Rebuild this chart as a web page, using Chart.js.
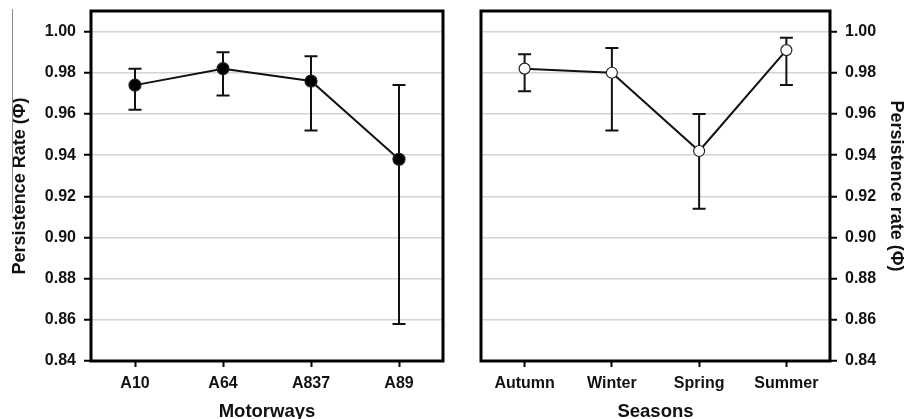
<!DOCTYPE html>
<html><head><meta charset="utf-8">
<script src="https://cdn.jsdelivr.net/npm/chart.js@4.4.1/dist/chart.umd.min.js"></script>
<style>
html,body{margin:0;padding:0;background:#fff;width:906px;height:419px;overflow:hidden}
#wrap{position:relative;width:906px;height:419px;background:#fff}
canvas{position:absolute;top:0}
#c1{left:0}
#c2{left:453px}
</style></head>
<body>
<div id="wrap"><canvas id="c1" width="453" height="419"></canvas><canvas id="c2" width="453" height="419"></canvas></div>
<script>
// ---- data ----
const motorways = ['A10', 'A64', 'A837', 'A89'];
const motorwayRate = [0.974, 0.982, 0.976, 0.938];
const motorwayLower = [0.962, 0.969, 0.952, 0.858];
const motorwayUpper = [0.982, 0.990, 0.988, 0.974];

const seasons = ['Autumn', 'Winter', 'Spring', 'Summer'];
const seasonRate = [0.982, 0.980, 0.942, 0.991];
const seasonLower = [0.971, 0.952, 0.914, 0.974];
const seasonUpper = [0.989, 0.992, 0.960, 0.997];

const yTicks = [0.84, 0.86, 0.88, 0.90, 0.92, 0.94, 0.96, 0.98, 1.00];
const yMin = 0.84;
const yMax = 1.01;

// ---- styling ----
Chart.defaults.font.family = "'Liberation Sans', Arial, sans-serif";
Chart.defaults.color = '#111';

const errorBars = {
  id: 'errorBars',
  beforeDatasetsDraw(chart, args, opts) {
    const {ctx, scales: {x, y}} = chart;
    ctx.save();
    ctx.strokeStyle = '#111';
    ctx.lineWidth = 2;
    opts.lower.forEach((lo, i) => {
      const px = x.getPixelForValue(i);
      const yl = y.getPixelForValue(lo);
      const yu = y.getPixelForValue(opts.upper[i]);
      const hw = 6.5;
      ctx.beginPath();
      ctx.moveTo(px, yl); ctx.lineTo(px, yu);
      ctx.moveTo(px - hw, yl); ctx.lineTo(px + hw, yl);
      ctx.moveTo(px - hw, yu); ctx.lineTo(px + hw, yu);
      ctx.stroke();
    });
    ctx.restore();
  }
};

const frame = {
  id: 'frame',
  afterDraw(chart, args, opts) {
    const {ctx, chartArea: a} = chart;
    ctx.save();
    ctx.strokeStyle = '#000';
    ctx.lineWidth = 3;
    ctx.strokeRect(a.left, a.top, a.right - a.left, a.bottom - a.top);
    if (opts.scanLine) {
      ctx.strokeStyle = '#8a8a8a';
      ctx.lineWidth = 1;
      ctx.beginPath();
      ctx.moveTo(12.5, 9);
      ctx.lineTo(12.5, 213);
      ctx.stroke();
    }
    ctx.restore();
  }
};

function yScale(position, width, title, titlePad) {
  return {
    type: 'linear',
    position: position,
    min: yMin,
    max: yMax,
    afterBuildTicks(scale) { scale.ticks = yTicks.map(v => ({value: v})); },
    afterFit(scale) { scale.width = width; scale.paddingTop = 0; scale.paddingBottom = 0; },
    ticks: {
      callback: v => Number(v).toFixed(2),
      font: {size: 16, weight: 'bold'},
      color: '#111',
      padding: 8
    },
    grid: {
      color: '#d4d4d4',
      lineWidth: 1.5,
      drawTicks: true,
      tickLength: 7,
      tickColor: '#000',
      tickWidth: 2
    },
    border: {display: false},
    title: {
      display: true,
      text: title,
      font: {size: 18, weight: 'bold', lineHeight: 0.8},
      color: '#111',
      padding: {top: titlePad, bottom: 0}
    }
  };
}

function xScale(labels, title) {
  return {
    type: 'category',
    labels: labels,
    offset: true,
    afterFit(scale) { scale.height = 58; },
    ticks: {
      font: {size: 16, weight: 'bold'},
      color: '#111',
      padding: 7,
      maxRotation: 0
    },
    grid: {
      drawOnChartArea: false,
      drawTicks: true,
      tickLength: 6,
      tickColor: '#000',
      tickWidth: 2,
      offset: false
    },
    border: {display: false},
    title: {
      display: true,
      text: title,
      font: {size: 18.5, weight: 'bold', lineHeight: 0.8},
      color: '#111',
      padding: {top: 0, bottom: 0}
    }
  };
}

function makeChart(id, labels, values, lower, upper, pointFill, pointR, yPos, yWidth, yTitle, yPad, xTitle, padding, scanLine) {
  return new Chart(document.getElementById(id), {
    type: 'line',
    data: {
      labels: labels,
      datasets: [{
        data: values,
        borderColor: '#111',
        borderWidth: 2,
        tension: 0,
        pointRadius: pointR,
        pointBackgroundColor: pointFill,
        pointBorderColor: '#222',
        pointBorderWidth: 1.2
      }]
    },
    options: {
      responsive: false,
      devicePixelRatio: 1,
      animation: false,
      layout: {padding: padding},
      plugins: {
        legend: {display: false},
        tooltip: {enabled: false},
        errorBars: {lower: lower, upper: upper},
        frame: {scanLine: scanLine}
      },
      scales: {
        x: xScale(labels, xTitle),
        y: yScale(yPos, yWidth, yTitle, yPad)
      }
    },
    plugins: [errorBars, frame]
  });
}

makeChart('c1', motorways, motorwayRate, motorwayLower, motorwayUpper, '#000', 6,
  'left', 91, 'Persistence Rate (Φ)', 13, 'Motorways',
  {left: 0, top: 11, right: 10, bottom: 0}, true);

makeChart('c2', seasons, seasonRate, seasonLower, seasonUpper, '#fff', 5.5,
  'right', 76, 'Persistence rate (Φ)', 3, 'Seasons',
  {left: 28, top: 11, right: 0, bottom: 0}, false);
</script>
</body></html>
